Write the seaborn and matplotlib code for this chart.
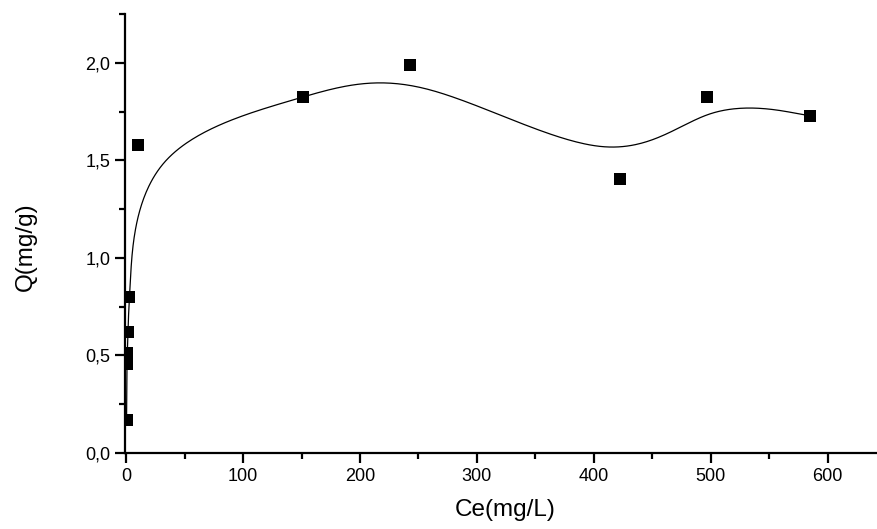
import numpy as np
import pandas as pd
import matplotlib
matplotlib.use("Agg")
import matplotlib.pyplot as plt
from matplotlib.ticker import MultipleLocator, FuncFormatter
import seaborn as sns

# ======================
# DATA
# ======================
ce = [0.3, 0.6, 1.0, 1.4, 2.6, 10.3, 151.5, 243.0, 422.5, 497.0, 585.0]
q = [0.167, 0.458, 0.515, 0.620, 0.797, 1.578, 1.824, 1.990, 1.404, 1.824, 1.728]

df = pd.DataFrame({"Ce": ce, "Q": q})


# uniform cubic B-spline, data points as control points, ends tripled (Origin style)
def bspline(px, py, steps=60):
    P = np.column_stack([px, py]).astype(float)
    P = np.vstack([P[:1], P[:1], P, P[-1:], P[-1:]])
    t = np.linspace(0, 1, steps, endpoint=False)
    b = np.column_stack([
        (1 - t) ** 3 / 6,
        (3 * t ** 3 - 6 * t ** 2 + 4) / 6,
        (-3 * t ** 3 + 3 * t ** 2 + 3 * t + 1) / 6,
        t ** 3 / 6,
    ])
    segs = [b @ P[i:i + 4] for i in range(len(P) - 3)]
    out = np.vstack(segs + [P[-1:]])
    return out[:, 0], out[:, 1]


sx, sy = bspline(ce, q)
curve = pd.DataFrame({"Ce": sx, "Q": sy})

# ======================
# PLOT
# ======================
sns.set_style("ticks", {"axes.edgecolor": "black", "text.color": "black",
                        "xtick.color": "black", "ytick.color": "black",
                        "axes.labelcolor": "black"})
plt.rcParams["font.family"] = ["Liberation Sans", "DejaVu Sans"]

fig = plt.figure(figsize=(8.78, 5.29), dpi=100)
ax = fig.add_axes([0.1424, 0.1437, 0.8576, 0.8298])

sns.lineplot(data=curve, x="Ce", y="Q", ax=ax, color="black", lw=0.9,
             sort=False, estimator=None)
sns.scatterplot(data=df, x="Ce", y="Q", ax=ax, marker="s", s=80,
                color="black", edgecolor="black", linewidth=0, zorder=3)

ax.set_xlim(-1, 643)
ax.set_ylim(0, 2.25)
ax.xaxis.set_major_locator(MultipleLocator(100))
ax.xaxis.set_minor_locator(MultipleLocator(50))
ax.yaxis.set_major_locator(MultipleLocator(0.5))
ax.yaxis.set_minor_locator(MultipleLocator(0.25))
ax.yaxis.set_major_formatter(FuncFormatter(lambda v, p: f"{v:.1f}".replace(".", ",")))

sns.despine(ax=ax)
for s in ("left", "bottom"):
    ax.spines[s].set_linewidth(1.6)
    ax.spines[s].set_color("black")
ax.tick_params(which="major", length=7, width=1.6, direction="out", labelsize=13,
               colors="black")
ax.tick_params(which="minor", length=4, width=1.6, direction="out", colors="black")

ax.set_xlabel("Ce(mg/L)", fontsize=17.5, color="black")
ax.set_ylabel("Q(mg/g)", fontsize=17.5, color="black")
ax.xaxis.set_label_coords(0.505, -0.105)
ax.yaxis.set_label_coords(-0.117, 0.47)
ax.grid(False)

fig.savefig("out.png", dpi=100)
plt.close(fig)
